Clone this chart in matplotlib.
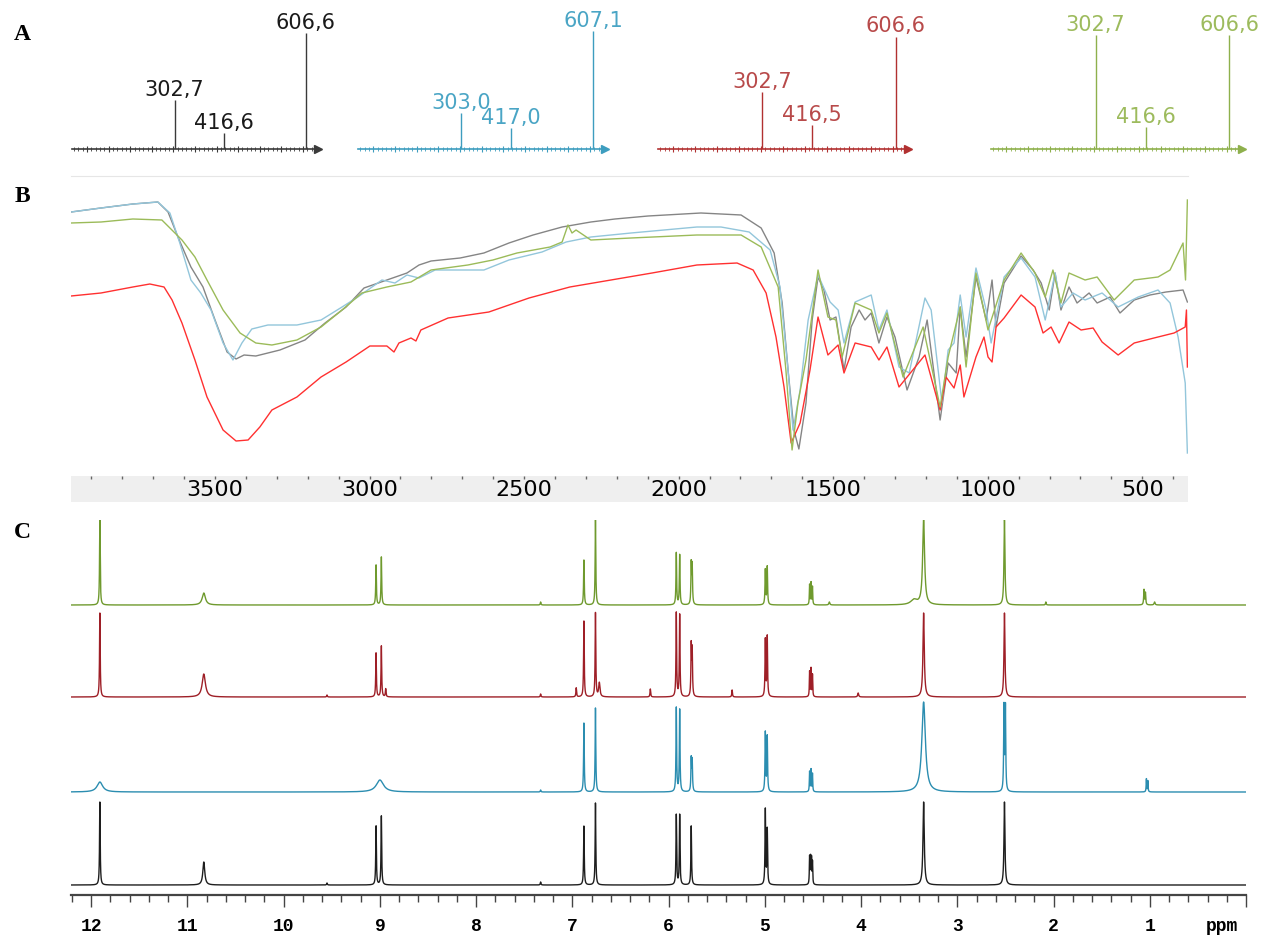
import numpy as np
import matplotlib
matplotlib.use("Agg")
import matplotlib.pyplot as plt
from matplotlib.ticker import MultipleLocator, FixedLocator

# ── Config ────────────────────────────────────────────────────────────────────
W, H = 1271, 935
DPI = 100

# ── Panel A: ESI-MS peaks (m/z, relative intensity) ─────────────────────────
MS_MZ = [
    [302.7, 416.6, 606.6],
    [303.0, 417.0, 607.1],
    [302.7, 416.5, 606.6],
    [302.7, 416.6, 606.6],
]
MS_INT = [
    [0.42, 0.14, 1.00],
    [0.31, 0.18, 1.02],
    [0.49, 0.21, 0.97],
    [0.98, 0.19, 0.98],
]
MS_LINE = ["#3a3a3a", "#3d9dbf", "#b13131", "#8eb04c"]
MS_TEXT = ["#1a1a1a", "#4aa5c5", "#b84a4a", "#9dbb5d"]

# ── Panel B: FTIR traces (wavenumber cm-1, transmittance a.u.) ───────────────
IR_WN_BLACK = [3966, 3869, 3766, 3685, 3652, 3620, 3578, 3539, 3500, 3461,
               3432, 3406, 3368, 3290, 3209, 3144, 3076, 3018, 2944, 2879,
               2840, 2801, 2707, 2630, 2549, 2471, 2377, 2284, 2206, 2099,
               1928, 1798, 1733, 1691, 1665, 1646, 1627, 1611, 1588, 1568,
               1549, 1530, 1510, 1491, 1465, 1442, 1416, 1397, 1377, 1352,
               1326, 1300, 1261, 1222, 1196, 1154, 1128, 1102, 1089, 1070,
               1038, 1005, 986, 973, 947, 892, 853, 827, 801, 782,
               763, 737, 711, 672, 646, 604, 572, 526, 475, 423, 368, 354]
IR_T_BLACK = [258, 262, 266, 268, 258, 233, 203, 183, 150, 118,
              111, 115, 114, 120, 130, 147, 163, 182, 190, 197,
              205, 209, 212, 217, 227, 235, 243, 248, 251, 254,
              257, 255, 242, 217, 167, 100, 40, 21, 67, 150,
              193, 180, 150, 153, 100, 143, 160, 150, 157, 127,
              153, 133, 80, 113, 150, 50, 107, 97, 163, 113,
              193, 150, 190, 143, 187, 214, 200, 187, 160, 197,
              160, 183, 167, 177, 167, 173, 157, 170, 175, 178, 180, 168]

IR_WN_BLUE = [3966, 3869, 3766, 3685, 3646, 3614, 3578, 3546, 3513, 3474,
              3442, 3413, 3381, 3329, 3235, 3157, 3089, 3038, 2960, 2918,
              2879, 2840, 2788, 2682, 2630, 2549, 2442, 2364, 2284, 2154, 1941,
              1863, 1772, 1704, 1672, 1646, 1630, 1607, 1581, 1549, 1510,
              1484, 1465, 1429, 1377, 1352, 1326, 1287, 1254, 1203, 1183,
              1148, 1128, 1109, 1089, 1070, 1038, 1005, 989, 947, 892,
              847, 814, 782, 763, 724, 685, 630, 578, 513, 449,
              410, 384, 361, 354]
IR_T_BLUE = [258, 262, 266, 268, 257, 227, 190, 177, 160, 127,
             110, 127, 141, 145, 145, 150, 163, 173, 190, 187,
             195, 192, 200, 200, 200, 210, 218, 228, 233, 237, 243,
             243, 238, 220, 183, 100, 40, 80, 150, 195, 168,
             160, 127, 168, 175, 140, 160, 103, 97, 172, 160,
             67, 120, 127, 175, 133, 202, 160, 127, 193, 212,
             193, 150, 197, 163, 177, 170, 177, 163, 173, 180,
             167, 133, 87, 17]

IR_WN_GREEN = [3966, 3869, 3766, 3672, 3633, 3607, 3565, 3526, 3474, 3419,
               3368, 3316, 3235, 3157, 3089, 3025, 2944, 2866, 2801, 2682,
               2601, 2523, 2416, 2377, 2358, 2345, 2332, 2284, 2154, 1941,
               1798, 1733, 1678, 1653, 1633, 1614, 1588, 1549, 1517, 1491,
               1471, 1429, 1377, 1352, 1326, 1274, 1209, 1154, 1128, 1089,
               1070, 1038, 999, 947, 892, 847, 814, 789, 763, 737,
               685, 646, 591, 526, 449, 410, 368, 360, 354]
IR_T_GREEN = [247, 248, 251, 250, 238, 230, 213, 190, 160, 137,
              127, 125, 130, 143, 160, 177, 183, 188, 200, 205,
              210, 217, 223, 228, 245, 237, 240, 230, 232, 235,
              235, 223, 183, 100, 20, 67, 110, 200, 153, 150,
              113, 167, 160, 137, 157, 93, 143, 63, 113, 163,
              103, 197, 140, 190, 217, 197, 173, 200, 167, 197,
              190, 193, 170, 190, 193, 200, 227, 190, 270]

IR_WN_RED = [3966, 3869, 3766, 3711, 3665, 3639, 3607, 3565, 3526, 3474,
             3432, 3393, 3355, 3316, 3235, 3157, 3076, 2999, 2944, 2921,
             2905, 2866, 2850, 2834, 2746, 2614, 2484, 2352, 2219, 2086, 1941,
             1811, 1759, 1717, 1685, 1659, 1636, 1607, 1575, 1549, 1517,
             1484, 1465, 1429, 1377, 1352, 1326, 1287, 1203, 1154, 1135,
             1109, 1089, 1077, 1038, 1012, 999, 986, 973, 947, 892,
             847, 821, 795, 769, 737, 698, 659, 630, 578, 526,
             462, 397, 361, 357, 354]
IR_T_RED = [174, 177, 183, 186, 183, 170, 147, 110, 73, 40,
            29, 30, 43, 60, 73, 93, 108, 124, 124, 118,
            127, 132, 129, 140, 152, 158, 172, 183, 190, 197, 205,
            207, 200, 177, 133, 83, 27, 47, 100, 153, 115,
            125, 97, 127, 123, 110, 123, 83, 115, 60, 93,
            82, 105, 73, 113, 133, 113, 108, 143, 152, 175,
            163, 137, 143, 127, 148, 140, 142, 128, 115, 127,
            132, 137, 143, 160, 103]

IR_TICKS = [3500, 3000, 2500, 2000, 1500, 1000, 500]

# ── Panel C: 1H NMR peak lists (ppm, height, half-width) ─────────────────────
NMR_GREEN_PPM = [11.91, 10.83, 9.04, 8.985, 7.33, 6.88, 6.76, 5.92, 5.885, 5.765, 5.755,
                 4.995, 4.975, 4.535, 4.52, 4.505, 4.33, 3.45, 3.35, 2.51, 2.08, 1.06, 1.045, 0.95]
NMR_GREEN_H = [85, 12, 40, 48, 3, 45, 85, 52, 50, 40, 38,
               35, 38, 20, 22, 18, 3, 5, 85, 85, 3, 15, 12, 3]
NMR_GREEN_W = [0.004, 0.02, 0.004, 0.004, 0.004, 0.004, 0.004, 0.004, 0.004, 0.004, 0.004,
               0.004, 0.004, 0.003, 0.003, 0.003, 0.006, 0.04, 0.012, 0.006, 0.004, 0.004, 0.004, 0.006]

NMR_RED_PPM = [11.91, 10.83, 9.55, 9.04, 8.985, 8.94, 7.33, 6.96, 6.88, 6.76, 6.72, 6.19,
               5.92, 5.885, 5.765, 5.755, 5.34, 4.995, 4.975, 4.535, 4.52, 4.505, 4.03, 3.35, 2.51]
NMR_RED_H = [84, 23, 2, 44, 51, 8, 3, 9, 76, 84, 14, 8,
             84, 82, 50, 45, 7, 57, 60, 25, 28, 22, 4, 84, 84]
NMR_RED_W = [0.004, 0.02, 0.004, 0.004, 0.004, 0.004, 0.004, 0.004, 0.004, 0.004, 0.008, 0.004,
             0.004, 0.004, 0.004, 0.004, 0.004, 0.004, 0.004, 0.003, 0.003, 0.003, 0.006, 0.008, 0.006]

NMR_BLUE_PPM = [11.91, 9.0, 7.33, 6.88, 6.76, 5.92, 5.885, 5.765, 5.755, 4.995, 4.975,
                4.535, 4.52, 4.505, 3.35, 2.515, 2.50, 1.035, 1.02]
NMR_BLUE_H = [10, 12, 2, 69, 84, 84, 82, 32, 30, 59, 55,
              20, 22, 18, 90, 84, 84, 13, 11]
NMR_BLUE_W = [0.035, 0.045, 0.004, 0.004, 0.004, 0.004, 0.004, 0.004, 0.004, 0.004, 0.004,
              0.003, 0.003, 0.003, 0.022, 0.004, 0.004, 0.003, 0.003]

NMR_BLACK_PPM = [11.91, 10.83, 9.55, 9.04, 8.985, 7.33, 6.88, 6.76, 5.92, 5.885, 5.765,
                 4.995, 4.975, 4.535, 4.525, 4.515, 4.505, 3.35, 2.51]
NMR_BLACK_H = [83, 23, 2, 59, 69, 3, 59, 82, 70, 70, 59,
               75, 55, 27, 26, 25, 22, 83, 83]
NMR_BLACK_W = [0.004, 0.012, 0.004, 0.004, 0.004, 0.004, 0.004, 0.004, 0.004, 0.004, 0.004,
               0.004, 0.004, 0.003, 0.003, 0.003, 0.003, 0.008, 0.006]
# ─────────────────────────────────────────────────────────────────────────────


def px_axes(fig, x0, y0, x1, y1, **kw):
    """Add axes from a pixel box (top-left origin)."""
    return fig.add_axes([x0 / W, 1 - y1 / H, (x1 - x0) / W, (y1 - y0) / H], **kw)


def draw_ms(fig):
    boxes = [(72, 318), (358, 605), (658, 908), (991, 1242)]
    for (x0, x1), mz, inten, lc, tc in zip(boxes, MS_MZ, MS_INT, MS_LINE, MS_TEXT):
        ax = px_axes(fig, x0, 14, x1, 149)
        ax.set_xlim(65, 635)
        ax.set_ylim(0, 1.164)
        ax.vlines(mz, 0, inten, color=lc, lw=1.0)
        for m, v in zip(mz, inten):
            ax.annotate(f"{m:.1f}".replace(".", ","), (m, v), xytext=(0, 0),
                        textcoords="offset points", ha="center", va="bottom",
                        fontsize=15, color=tc, family="DejaVu Sans")
        for side in ["top", "left", "right"]:
            ax.spines[side].set_visible(False)
        ax.spines["bottom"].set_color(lc)
        ax.spines["bottom"].set_linewidth(1.2)
        ax.set_yticks([])
        ax.xaxis.set_major_locator(MultipleLocator(50))
        ax.xaxis.set_minor_locator(MultipleLocator(10))
        ax.tick_params(axis="x", which="major", length=5, width=0.8, color=lc,
                       direction="inout", labelbottom=False)
        ax.tick_params(axis="x", which="minor", length=3, width=0.6, color=lc,
                       direction="inout")
        ax.plot([1.0], [0], marker=">", ms=6, color=lc, transform=ax.transAxes,
                clip_on=False)
        ax.patch.set_alpha(0)


def draw_ir(fig):
    ax = px_axes(fig, 71, 176, 1188, 476)
    for wn, t, c in [(IR_WN_BLACK, IR_T_BLACK, "#858585"),
                     (IR_WN_BLUE, IR_T_BLUE, "#93c6db"),
                     (IR_WN_RED, IR_T_RED, "#ff3030"),
                     (IR_WN_GREEN, IR_T_GREEN, "#9bbb59")]:
        ax.plot(wn, t, color=c, lw=1.0)
    ax.set_xlim(3966, 352)
    ax.set_ylim(-6, 294)
    for side in ["bottom", "left", "right"]:
        ax.spines[side].set_visible(False)
    ax.spines["top"].set_color("#e6e6e6")
    ax.set_xticks([])
    ax.set_yticks([])

    band = px_axes(fig, 71, 476, 1188, 502)
    band.set_facecolor("#efefef")
    band.set_xlim(3966, 352)
    band.set_yticks([])
    for s in band.spines.values():
        s.set_visible(False)
    band.xaxis.set_major_locator(FixedLocator(IR_TICKS))
    band.xaxis.set_minor_locator(MultipleLocator(100))
    band.tick_params(axis="x", which="both", top=True, bottom=False,
                     direction="in", length=2, width=1, color="#666666",
                     labeltop=False, labelbottom=True, pad=-16,
                     labelsize=16)
    for lab in band.get_xticklabels():
        lab.set_family("DejaVu Sans")


def nmr_trace(grid, pos, hts, wid):
    y = np.zeros_like(grid)
    for p, h, w in zip(pos, hts, wid):
        y += h / (1 + ((grid - p) / w) ** 2)
    return y


def draw_nmr(fig):
    ax = px_axes(fig, 71, 520, 1246, 895)
    grid = np.linspace(12.21, 0.0, 30000)
    traces = [
        (NMR_BLACK_PPM, NMR_BLACK_H, NMR_BLACK_W, 10, "#1e1e1e"),
        (NMR_BLUE_PPM, NMR_BLUE_H, NMR_BLUE_W, 103, "#2b8db0"),
        (NMR_RED_PPM, NMR_RED_H, NMR_RED_W, 198, "#9e1f27"),
        (NMR_GREEN_PPM, NMR_GREEN_H, NMR_GREEN_W, 290, "#6f9a2e"),
    ]
    for pos, hts, wid, off, c in traces:
        ax.plot(grid, off + nmr_trace(grid, pos, hts, wid), color=c, lw=1.0)
    ax.set_xlim(12.21, 0.0)
    ax.set_ylim(0, 375)
    for side in ["top", "left", "right"]:
        ax.spines[side].set_visible(False)
    ax.spines["bottom"].set_color("#444444")
    ax.spines["bottom"].set_linewidth(1.6)
    ax.set_yticks([])
    ax.xaxis.set_major_locator(FixedLocator(list(range(0, 13))))
    ax.xaxis.set_minor_locator(MultipleLocator(0.2))
    ax.set_xticklabels(["" if v == 0 else str(v) for v in range(0, 13)])
    ax.tick_params(axis="x", which="major", length=8.6, width=1.0,
                   color="#444444", pad=8, labelsize=13)
    ax.tick_params(axis="x", which="minor", length=5, width=1.0, color="#444444")
    for lab in ax.get_xticklabels():
        lab.set_family("Liberation Mono")
        lab.set_weight("bold")
    ax.annotate("ppm", xy=(0.25, 0), xycoords=("data", "axes fraction"),
                xytext=(0, -16.6), textcoords="offset points", ha="center",
                va="top", fontsize=13, family="Liberation Mono", weight="bold")
    ax.patch.set_alpha(0)


def main():
    fig = plt.figure(figsize=(W / DPI, H / DPI), dpi=DPI, facecolor="white")
    draw_ms(fig)
    draw_ir(fig)
    draw_nmr(fig)

    for letter, ypx in [("A", 35), ("B", 197), ("C", 533)]:
        fig.text(22 / W, 1 - ypx / H, letter, fontsize=17, fontweight="bold",
                 family="Liberation Serif", ha="center", va="center")

    fig.savefig("out.png", dpi=DPI, facecolor="white")
    plt.close(fig)


if __name__ == "__main__":
    main()
